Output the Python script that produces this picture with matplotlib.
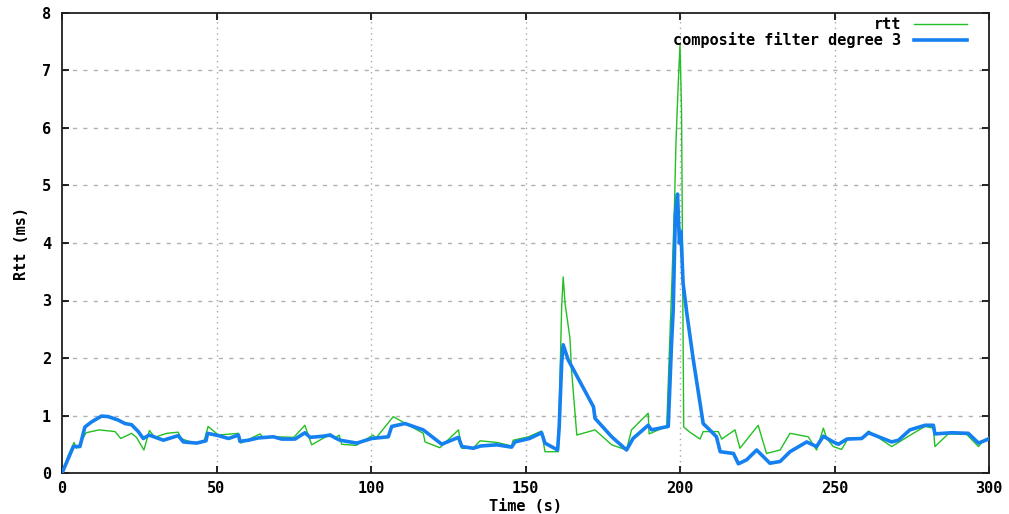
import matplotlib
matplotlib.use("Agg")
import matplotlib.pyplot as plt

# Raw round-trip time samples
rtt_time = [0, 2, 3.9, 4.7, 5.5, 7.8, 12, 17.2, 19, 22.5, 24.1, 26.5, 28.3, 30,
            33.9, 37.6, 38.5, 40.5, 43, 46, 47.3, 50.6, 57.1, 57.9, 64.1, 65,
            68.7, 75, 78.6, 80.8, 87, 88.3, 89.7, 90.5, 95.2, 100.7, 101.5,
            107.2, 116.9, 117.5, 122.3, 128.3, 129.4, 133, 135.3, 140.9, 145.5,
            146, 151, 155.2, 156.3, 160.6, 161.7, 162.2, 162.8, 164.4, 164.9,
            166.6, 172.5, 177.9, 182.7, 184.3, 189.7, 190, 195.7, 197.5, 198.2,
            198.7, 199.5, 200, 200.5, 201.2, 203.2, 206.5, 207.5, 212.4, 213.5,
            217.8, 219.4, 225.3, 228, 232.4, 235.6, 241.5, 244.2, 246.4, 247.5,
            249.6, 252.3, 254.5, 258.8, 261, 268.5, 275.5, 279.3, 282, 282.5,
            286.8, 292.8, 296.6, 298, 300]
rtt_ms = [0.0, 0.30, 0.53, 0.43, 0.48, 0.70, 0.75, 0.72, 0.60, 0.69, 0.62, 0.40,
          0.74, 0.62, 0.69, 0.71, 0.60, 0.56, 0.52, 0.56, 0.81, 0.66, 0.69, 0.52,
          0.68, 0.62, 0.63, 0.62, 0.83, 0.49, 0.68, 0.60, 0.66, 0.50, 0.48, 0.66,
          0.60, 0.98, 0.69, 0.54, 0.44, 0.75, 0.43, 0.43, 0.56, 0.53, 0.47, 0.57,
          0.63, 0.73, 0.37, 0.37, 2.89, 3.41, 2.95, 2.34, 1.79, 0.66, 0.75, 0.49,
          0.40, 0.75, 1.04, 0.68, 0.81, 3.53, 4.63, 5.76, 6.86, 7.45, 6.30, 0.80,
          0.71, 0.59, 0.72, 0.72, 0.59, 0.75, 0.43, 0.83, 0.34, 0.40, 0.69, 0.63,
          0.40, 0.78, 0.60, 0.46, 0.41, 0.61, 0.60, 0.73, 0.46, 0.69, 0.81, 0.78,
          0.46, 0.68, 0.67, 0.46, 0.55, 0.62]

# Output of the composite filter (degree 3)
filt_time = [0, 3.7, 5.8, 7.4, 9.6, 12.8, 15, 18.2, 20.4, 22.5, 24.7, 26.3, 28.2,
             32.8, 37.6, 39.3, 43.6, 46.6, 47.1, 50.6, 53.9, 57.1, 57.6, 60.3,
             63.5, 68.4, 71.1, 75.4, 78.6, 80.3, 84.6, 86.7, 88.8, 90, 95.4,
             100.2, 105.6, 106.7, 111, 116.9, 122.9, 128.3, 129.4, 133.1, 135.5,
             140.7, 145.5, 146.6, 151.3, 155.2, 156.3, 160.4, 160.9, 161.7, 162.2,
             163.8, 172, 172.5, 177.9, 182.7, 184.8, 189.7, 190.8, 196.2, 197.3,
             197.8, 198.5, 199.2, 199.8, 200.3, 201, 202.2, 204.3, 206.5, 207.5,
             209.6, 211.8, 213, 217.3, 218.9, 221.6, 224.8, 229.1, 232.4, 235.6,
             241, 244.2, 246.4, 249.6, 251.3, 254, 258.8, 261, 268.5, 270.7, 274.4,
             279.3, 282, 282.5, 287.9, 293.3, 296.6, 299.8, 300]
filt_ms = [0.0, 0.46, 0.46, 0.80, 0.89, 0.99, 0.98, 0.92, 0.86, 0.84, 0.72, 0.60,
           0.66, 0.57, 0.65, 0.54, 0.52, 0.56, 0.69, 0.65, 0.60, 0.66, 0.55, 0.57,
           0.61, 0.63, 0.59, 0.59, 0.70, 0.62, 0.64, 0.66, 0.60, 0.57, 0.52, 0.60,
           0.63, 0.81, 0.86, 0.75, 0.50, 0.62, 0.46, 0.43, 0.47, 0.49, 0.45, 0.54,
           0.60, 0.70, 0.52, 0.40, 0.80, 1.91, 2.23, 1.97, 1.15, 0.95, 0.63, 0.40,
           0.60, 0.83, 0.75, 0.81, 2.30, 2.83, 4.50, 4.85, 4.00, 4.20, 3.30, 2.78,
           1.97, 1.21, 0.86, 0.75, 0.63, 0.37, 0.34, 0.16, 0.23, 0.40, 0.17, 0.20,
           0.37, 0.54, 0.46, 0.64, 0.54, 0.50, 0.59, 0.60, 0.70, 0.54, 0.57, 0.75,
           0.83, 0.83, 0.68, 0.70, 0.69, 0.52, 0.59, 0.60]

x_ticks = [0, 50, 100, 150, 200, 250, 300]
y_ticks = [0, 1, 2, 3, 4, 5, 6, 7, 8]

MONO = "DejaVu Sans Mono"
W, H = 1009, 514

fig = plt.figure(figsize=(W / 100, H / 100), dpi=100)
ax = fig.add_axes([62 / W, 41 / H, 927 / W, 460 / H])

ax.plot(rtt_time, rtt_ms, color="#22c022", linewidth=1.0, label="rtt", zorder=3)
ax.plot(filt_time, filt_ms, color="#1580f0", linewidth=2.6,
        label="composite filter degree 3", zorder=4)

ax.set_xlim(0, 300)
ax.set_ylim(0, 8)
ax.set_xticks(x_ticks)
ax.set_yticks(y_ticks)
ax.set_xticklabels([str(v) for v in x_ticks], fontfamily=MONO,
                   fontweight="bold", fontsize=11)
ax.set_yticklabels([str(v) for v in y_ticks], fontfamily=MONO,
                   fontweight="bold", fontsize=11)
ax.tick_params(axis="x", direction="in", length=5, width=1.2, top=True,
               pad=6)
ax.tick_params(axis="y", direction="in", length=5, width=1.2, right=True,
               pad=8)

# Dotted vertical and dashed horizontal grid lines
for xv in x_ticks[1:-1]:
    ax.axvline(xv, color="#a8a8a8", linewidth=1.0, linestyle=(0, (1, 3)),
               zorder=1)
for yv in y_ticks[1:-1]:
    ax.axhline(yv, color="#b0b0b0", linewidth=1.0, linestyle=(0, (3, 4.5)),
               zorder=1)

for side in ax.spines.values():
    side.set_linewidth(1.3)
    side.set_color("#202020")

ax.set_xlabel("Time (s)", fontfamily=MONO, fontweight="bold", fontsize=11,
              labelpad=2)
ax.set_ylabel("Rtt (ms)", fontfamily=MONO, fontweight="bold", fontsize=11,
              labelpad=9)

leg = ax.legend(loc="upper right",
                bbox_to_anchor=(967 / W, (H - 17) / H),
                bbox_transform=fig.transFigure, frameon=False,
                markerfirst=False, handlelength=3.5, handletextpad=0.8,
                labelspacing=0.0, borderaxespad=0, borderpad=0,
                prop={"family": MONO, "weight": "bold", "size": 11})
for t in leg.get_texts():
    t.set_ha("right")

fig.savefig("out.png", dpi=100)
